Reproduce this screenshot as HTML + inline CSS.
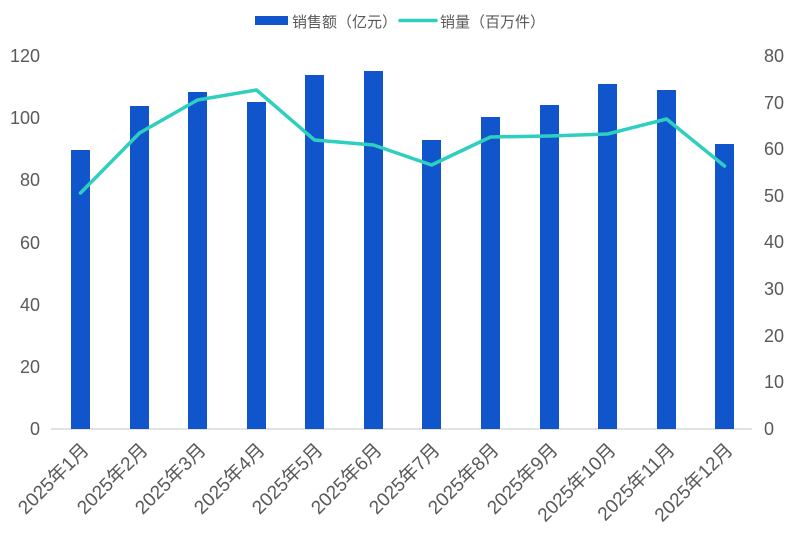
<!DOCTYPE html>
<html><head><meta charset="utf-8"><style>
html,body{margin:0;padding:0;background:#fff;}
svg text{font-family:"Liberation Sans","Noto Sans CJK SC",sans-serif;fill:#595959;}
</style></head><body>
<svg width="800" height="543" viewBox="0 0 800 543" xmlns="http://www.w3.org/2000/svg">
<rect x="255" y="16" width="33" height="9" fill="#1155cc"/>
<text x="292" y="27" font-size="15">销售额（亿元）</text>
<line x1="400" y1="20.5" x2="436" y2="20.5" stroke="#2ecfbf" stroke-width="3.5" stroke-linecap="round"/>
<text x="440" y="27" font-size="15">销量（百万件）</text>
<g font-size="18" text-anchor="end">
<text x="40" y="435">0</text><text x="40" y="373">20</text><text x="40" y="311">40</text>
<text x="40" y="249">60</text><text x="40" y="186">80</text><text x="40" y="124">100</text><text x="40" y="62">120</text>
</g>
<g font-size="18" text-anchor="start">
<text x="764" y="435">0</text><text x="764" y="388">10</text><text x="764" y="342">20</text>
<text x="764" y="295">30</text><text x="764" y="248">40</text><text x="764" y="202">50</text>
<text x="764" y="155">60</text><text x="764" y="109">70</text><text x="764" y="62">80</text>
</g>
<line x1="51" y1="429" x2="752" y2="429" stroke="#d9d9d9" stroke-width="1.5"/>
<g fill="#1155cc">
<rect x="71" y="150" width="19" height="279"/>
<rect x="130" y="106" width="19" height="323"/>
<rect x="188" y="92" width="19" height="337"/>
<rect x="247" y="102" width="19" height="327"/>
<rect x="305" y="75" width="19" height="354"/>
<rect x="364" y="71" width="19" height="358"/>
<rect x="422" y="140" width="19" height="289"/>
<rect x="481" y="117" width="19" height="312"/>
<rect x="540" y="105" width="19" height="324"/>
<rect x="598" y="84" width="19" height="345"/>
<rect x="657" y="90" width="19" height="339"/>
<rect x="715" y="144" width="19" height="285"/>
</g>
<polyline fill="none" stroke="#2ecfbf" stroke-width="3.5" stroke-linejoin="round" stroke-linecap="round"
points="80.5,193 139.5,133 197.5,100 256.5,90 314.5,140 373.5,145 431.5,165 490.5,137 549.5,136 607.5,134 666.5,119 724.5,166"/>
<g font-size="19" text-anchor="end">
<text transform="translate(90,451) rotate(-45)">2025年1月</text>
<text transform="translate(149,451) rotate(-45)">2025年2月</text>
<text transform="translate(207,451) rotate(-45)">2025年3月</text>
<text transform="translate(266,451) rotate(-45)">2025年4月</text>
<text transform="translate(324,451) rotate(-45)">2025年5月</text>
<text transform="translate(383,451) rotate(-45)">2025年6月</text>
<text transform="translate(441,451) rotate(-45)">2025年7月</text>
<text transform="translate(500,451) rotate(-45)">2025年8月</text>
<text transform="translate(559,451) rotate(-45)">2025年9月</text>
<text transform="translate(617,451) rotate(-45)">2025年10月</text>
<text transform="translate(676,451) rotate(-45)">2025年11月</text>
<text transform="translate(734,451) rotate(-45)">2025年12月</text>
</g>
</svg>
</body></html>
